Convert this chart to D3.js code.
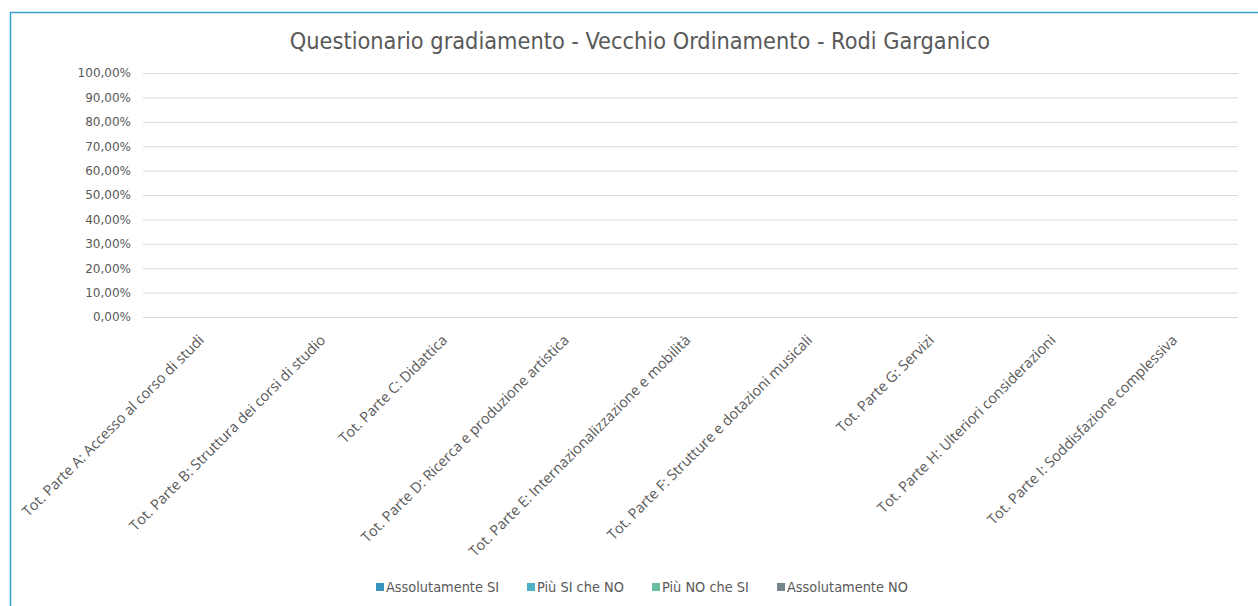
<!DOCTYPE html>
<html>
<head>
<meta charset="utf-8">
<script src="https://cdn.jsdelivr.net/npm/d3@7"></script>
<style>
    body { margin: 0; background: #fff; }
    svg { display: block; }
    .y-axis text { font-family: 'DejaVu Sans', sans-serif; font-size: 12px; fill: #595959; }
    .x-axis text { font-family: 'Open Sans', sans-serif; font-size: 14.5px; fill: #595959; }
    .legend text { font-family: 'DejaVu Sans Condensed', 'DejaVu Sans', sans-serif; font-size: 14.4px; fill: #595959; }
    .title { font-family: 'DejaVu Sans Condensed', 'DejaVu Sans', sans-serif; font-size: 23.3px; fill: #595959; }
</style>
</head>
<body>
<div class="chart"></div>
<script>
const chartTitle = 'Questionario gradiamento - Vecchio Ordinamento - Rodi Garganico';

const categories = [
    'Tot. Parte A: Accesso al corso di studi',
    'Tot. Parte B: Struttura dei corsi di studio',
    'Tot. Parte C: Didattica',
    'Tot. Parte D: Ricerca e produzione artistica',
    'Tot. Parte E: Internazionalizzazione e mobilità',
    'Tot. Parte F: Strutture e dotazioni musicali',
    'Tot. Parte G: Servizi',
    'Tot. Parte H: Ulteriori considerazioni',
    'Tot. Parte I: Soddisfazione complessiva',
];

const seriesNames = ['Assolutamente SI', 'Più SI che NO', 'Più NO che SI', 'Assolutamente NO'];

// no answers for this campus: every share is zero
const assolutamenteSi = [0, 0, 0, 0, 0, 0, 0, 0, 0];
const piuSiCheNo = [0, 0, 0, 0, 0, 0, 0, 0, 0];
const piuNoCheSi = [0, 0, 0, 0, 0, 0, 0, 0, 0];
const assolutamenteNo = [0, 0, 0, 0, 0, 0, 0, 0, 0];

const yTicks = [0, 0.1, 0.2, 0.3, 0.4, 0.5, 0.6, 0.7, 0.8, 0.9, 1];

const seriesValues = [assolutamenteSi, piuSiCheNo, piuNoCheSi, assolutamenteNo];
const colors = ['#3a93bd', '#4bb4c4', '#6cbea0', '#75878c'];

const width = 1258;
const height = 606;
const margin = { top: 73, right: 20, bottom: 289, left: 143 };

const svg = d3.select('.chart')
    .append('svg')
    .attr('width', width)
    .attr('height', height);

// outer frame
svg.append('rect')
    .attr('x', 10.5)
    .attr('y', 12.5)
    .attr('width', width)
    .attr('height', height)
    .attr('fill', 'none')
    .attr('stroke', '#3a9fd0')
    .attr('stroke-width', 1.5);

svg.append('text')
    .attr('class', 'title')
    .attr('x', 640)
    .attr('y', 49)
    .attr('text-anchor', 'middle')
    .text(chartTitle);

const plotW = 1238 - margin.left;
const plotH = 317 - margin.top;

const g = svg.append('g')
    .attr('transform', `translate(${margin.left}, ${margin.top})`);

const x = d3.scaleBand()
    .domain(categories)
    .range([0, plotW]);

const xInner = d3.scaleBand()
    .domain(seriesNames)
    .range([0, x.bandwidth()])
    .paddingOuter(0.5);

const y = d3.scaleLinear()
    .domain([0, 1])
    .range([plotH, 0]);

const fmt = (d) => d3.format('.2f')(d * 100).replace('.', ',') + '%';

g.append('g')
    .attr('class', 'y-axis')
    .call(d3.axisLeft(y)
        .tickValues(yTicks)
        .tickSize(-plotW)
        .tickPadding(12)
        .tickFormat(fmt))
    .call((ax) => ax.select('.domain').remove())
    .call((ax) => ax.selectAll('line').attr('stroke', '#d9d9d9'));

// bars (all zero height here)
seriesValues.forEach((vals, si) => {
    g.append('g')
        .selectAll('rect')
        .data(vals)
        .enter()
        .append('rect')
        .attr('x', (d, i) => x(categories[i]) + xInner(seriesNames[si]))
        .attr('y', (d) => y(d))
        .attr('width', xInner.bandwidth())
        .attr('height', (d) => plotH - y(d))
        .attr('fill', colors[si]);
});

const xAxis = g.append('g')
    .attr('class', 'x-axis')
    .attr('transform', `translate(0, ${plotH})`)
    .call(d3.axisBottom(x).tickSize(0).tickPadding(0));
xAxis.select('.domain').remove();
xAxis.selectAll('text')
    .attr('text-anchor', 'end')
    .attr('dy', 0)
    .attr('transform', 'translate(1, 24) rotate(-45)');

// legend
const legendX = [376, 527, 652, 777];
const legend = svg.append('g').attr('class', 'legend');
seriesNames.forEach((name, i) => {
    legend.append('rect')
        .attr('x', legendX[i])
        .attr('y', 583)
        .attr('width', 8)
        .attr('height', 8)
        .attr('fill', colors[i]);
    legend.append('text')
        .attr('x', legendX[i] + 10)
        .attr('y', 592)
        .text(name);
});
</script>
</body>
</html>
